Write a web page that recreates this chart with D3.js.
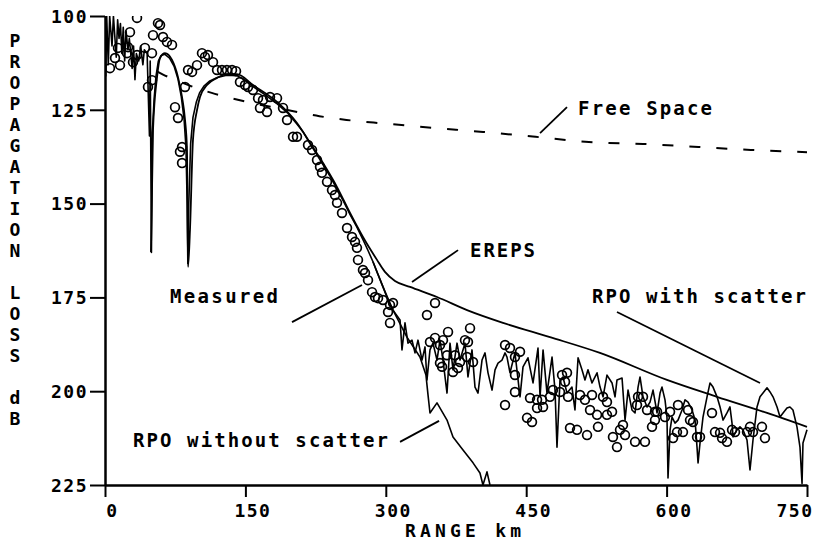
<!DOCTYPE html>
<html><head><meta charset="utf-8">
<script src="https://cdn.jsdelivr.net/npm/d3@7"></script>
<style>
html,body{margin:0;padding:0;background:#fff;}
svg{display:block;}
text{font-family:"DejaVu Sans Mono",monospace;font-weight:bold;fill:#000;}
</style></head>
<body>
<svg id="chart" width="823" height="542"></svg>
<script>
// ---------- data (range km, propagation loss dB) ----------
const xTicks = [0, 150, 300, 450, 600, 750];
const yTicks = [100, 125, 150, 175, 200, 225];
const yTitle = "PROPAGATION LOSS dB";
const xTitle = "RANGE  km";

const freeSpace = [[56,114.8],[62,115.6],[75,117],[100,119.4],[114,120.5],[143,122.4],[200,125.3],[229,126.7],[258,127.7],[287,128.4],[350,129.8],[404,130.9],[460,132.2],[517,133.6],[575,134.1],[634,134.9],[690,135.7],[750,136.3]];

const ereps = [[49.1,162.9],[51.3,130.4],[55.6,116.3],[58.8,111.2],[64.1,109.9],[71.6,111.7],[78,116.3],[82.3,121.6],[85.5,127.7],[87.6,135.7],[88.7,166.9],[90.8,157],[94,133],[98.3,125.1],[101.5,121.6],[109,118.4],[119.7,116.5],[130.3,115.5],[141,115.5],[158.1,118.4],[183.8,122.9],[205.1,128.5],[219,133.8],[232.9,139.2],[247.9,145.6],[261.8,152.5],[275.6,158.9],[290.6,165],[299.1,168.2],[309.8,170.6],[325.9,172.2],[354.7,174.9],[386.8,178.4],[425.2,181.8],[475.4,185.6],[528.8,189.8],[600.4,197],[653.8,201.5],[707.3,205.8],[750,209.5]];

const rpoScatter = [[0,100],[0.8,116],[1.8,100],[3.5,113],[5,100],[7.5,108],[9,100],[12,111],[13.5,101],[15,106],[16.5,102],[18,110],[19.5,103],[21,112],[22.5,104],[24.5,109],[26,106],[29,114],[30.5,108],[32,117],[33.5,110],[36,112],[38,108],[40.5,113],[42,109],[45,110],[47.5,132],[48.3,112],[49.6,163],[50.6,131],[52.5,122],[54.5,116],[57,112],[60,110.5],[64,110.2],[69,111.2],[74,113.5],[78,116.8],[81.5,121.5],[84.5,127.5],[86.5,135],[87.8,150],[88.5,166],[89.5,150],[91.5,134],[94,127],[97.5,123],[101,120.5],[106,118.6],[112,117.3],[120,116.4],[130,115.8],[141,115.9],[150,117.2],[158,118.8],[170,120.8],[184,123.4],[195,125.8],[205,128.8],[212,131],[219,134],[226,136.8],[233,139.7],[240,142.5],[248,146.2],[255,149.5],[262,153],[269,156.2],[276,159.8],[281,162.5],[286.3,165.5],[291,168.5],[297,172.2],[302,175.5],[307.7,178.4],
[315.2,181],[317.3,189],[320.5,181.8],[323.7,187.2],[328,186.4],[331.2,189.8],[334.4,186.4],[338.7,191.7],[341.9,188.2],[344,197],[347.2,189],[350.4,187.2],[354.7,191.7],[357.9,186.4],[361.1,191.7],[365.4,200.5],[368.6,187.2],[371.8,194.3],[376.1,187.2],[379.3,191.7],[384.6,187.2],[387.8,196.2],[392.1,189],[395.3,198.9],[398.5,200.5],[402.8,191.7],[406,189.8],[409.2,195.1],[413.5,199.7],[416.7,194.3],[419.9,192.5],[424.2,191.7],[427.4,189.8],[429.5,190.9],[432.7,195.1],[438,189.8],[443.4,201.5],[446.6,193.5],[451.9,191.1],[457.3,197.8],[462.6,188.5],[464.8,201.5],[468,189],[472.2,200.5],[477.6,190.9],[480.8,199.7],[482.9,214.9],[486.1,197],[489.3,196.2],[493.6,200.5],[498.9,198.9],[502.1,205],[505.4,191.1],[509.6,194.3],[512.8,197],[516,194.3],[520.3,197.8],[525.7,195.1],[528.9,198.9],[532.1,201.5],[536.3,195.7],[541.7,197.8],[544.9,201.5],[547,197],[552.4,196.5],[555.6,207.7],[558.8,199.7],[563,205],[566.3,205.8],[569.5,198.9],[571.6,196.2],[574.8,201.5],[579.1,204.2],[582.3,202.9],[585.5,199.7],[589.8,205.8],[593,200.5],[595.1,198.9],[598.3,202.3],[600.4,206.9],[601.5,223.1],[603.7,210.3],[605.8,206.9],[609,208.5],[612.2,207.7],[616.5,205],[619.7,202.3],[622.9,202.9],[627.2,205],[630.4,207.7],[632.5,214.9],[633.6,219.1],[635.7,213.8],[638.9,206.9],[643.2,201.5],[646.4,197.8],[649.6,198.9],[653.9,201.5],[657.1,204.2],[660.3,207.7],[664.5,205.8],[667.7,204.2],[669.9,208.5],[671,212.2],[675.2,210.3],[678.4,209.5],[681.6,210.3],[685.9,213],[689.1,221],[692.3,213],[696.6,204.2],[699.8,201.5],[703,200.5],[707.3,199.1],[710.5,200.2],[713.7,201.5],[718,204.2],[721.2,206.9],[724.4,205.8],[728.6,204.5],[731.8,204.2],[735,205],[739.3,209.5],[742.5,214.9],[744.7,224.6],[745.7,213.8],[750,210.3]];

const rpoNoScatter = [[286.3,165.5],[297,172.2],[307.7,178.4],[322.6,185.6],[336.5,190.9],[342.9,195.7],[345.1,201],[347.2,205.8],[354.7,203.1],[365.4,207.7],[371.8,212.2],[382.5,215.7],[393.2,219.1],[400.6,221.8],[403.8,225],[408.1,221.5],[411.3,225]];

const measured = [[34.2,100.5],[56.6,101.9],[58.8,102.4],[26.7,104.3],[51.3,105.1],[62,105.6],[66.2,106.9],[71.6,107.7],[13.9,108.5],[24.6,108.3],[23.5,109.9],[42.7,108.5],[50.2,109.9],[10.7,111.2],[29.9,112.3],[16,113.1],[5.3,113.9],[34.2,110.4],[50.2,117.1],[45.9,118.9],[85.5,118.9],[74.8,124.3],[78,127.2],[82.3,134.9],[80.1,136.2],[82.3,139.2],[88.7,114.4],[93,114.9],[98.3,113.1],[103.6,109.9],[106.8,110.9],[110,110.4],[115.4,112.3],[119.7,114.4],[125,114.4],[130.3,114.4],[135.7,114.4],[140,114.7],[144.2,117.6],[149.6,118.4],[152.8,118.9],[158.1,119.7],[163.5,121.9],[168.8,122.4],[176.3,121.6],[183.8,121.9],[165.6,124.5],[173.1,125.6],[190.2,124.5],[194.5,127.7],[200.9,132.2],[205.1,132.2],[216.9,134.4],[221.2,135.7],[226.5,138.4],[229.7,140.2],[231.8,141.8],[237.2,144.2],[242.5,146.4],[245.7,147.7],[247.9,149.8],[253.2,152.5],[258.6,156.5],[263.9,158.9],[267.1,160.2],[269.2,161.8],[270.3,165],[275.6,167.7],[277.8,168.5],[281,170.4],[285.3,173.6],[288.5,174.9],[291.7,175.2],[297,175.7],[304.5,177],[302.4,178.9],[304.5,181.8],[307.7,176.5],[352.6,176.5],[344,179.7],[366.5,184.2],[390,183.2],[347.2,186.9],[352.6,185.8],[361.1,186.4],[357.9,187.7],[365.4,190.4],[373.9,190.4],[384.6,186.4],[387.8,186.9],[386.8,190.9],[379.3,192.2],[357.9,192.5],[360.1,193.5],[377.1,193.8],[371.8,194.9],[393.2,192.2],[427.4,187.7],[427.4,203.7],[432.7,188.5],[443.4,189.5],[438,190.9],[438,195.7],[438,200.2],[454.1,201.8],[461.6,202.3],[466.9,202.3],[461.6,204.5],[468,204.2],[478.6,199.7],[475.4,201.5],[450.9,207.1],[456.2,208.2],[488.3,195.7],[493.6,195.1],[491.5,197.5],[486.1,200.2],[494.7,201.5],[507.5,201],[512.8,202.3],[520.3,201],[518.2,205],[525.7,206.3],[536.3,206.3],[541.7,205.5],[532.1,201.5],[536.3,202.9],[496.8,209.8],[504.3,210.3],[515,211.7],[526.7,209.5],[542.7,212.2],[555.6,211.7],[550.2,210.3],[553.4,209],[547,214.9],[566.3,213.5],[576.9,213.5],[568.4,203.7],[569.5,201.5],[579.1,205],[584.4,209.5],[587.6,207.7],[587.6,205.5],[574.8,201.5],[589.8,205.5],[598.3,206.9],[603.7,205.5],[612.2,203.7],[622.9,205],[611.1,210.9],[617.5,210.9],[632.5,212.2],[635.7,212.2],[648.5,205.8],[628.2,208.2],[651.7,210.9],[657.1,211.1],[664.5,213.5],[659.2,212.5],[669.9,210.3],[673.1,210.9],[685.9,210.9],[689.1,209.5],[692.3,210.9],[701.9,209.5],[705.1,212.5],[606.9,212.5],[625,207.7]];

// annotation labels: text, anchor (km, dB), pointer from/to (km, dB)
const labelText = ["Free Space", "EREPS", "Measured", "RPO with scatter", "RPO without scatter"];
const labelAt = [[505.4,126.4],[390,164.2],[69.4,176.5],[520.3,176.5],[29.9,214.9]];
const labelWidth = [134, 65, 108, 214, 255];
const pointerFrom = [[464.8,131.2],[328,170.9],[199.8,181.6],[547,178.9],[315.2,213.5]];
const pointerTo = [[493.6,124.3],[377.2,162.4],[274.6,171.7],[699.8,197.8],[356.9,207.9]];

// ---------- drawing ----------
const svg = d3.select("#chart");
const x = d3.scaleLinear().domain([0, 750]).range([105, 807]);
const y = d3.scaleLinear().domain([100, 225]).range([16, 485]);

svg.append("defs").append("clipPath").attr("id", "plot")
  .append("rect").attr("x", 105).attr("y", 16).attr("width", 710).attr("height", 469);

const g = svg.append("g").attr("clip-path", "url(#plot)");
const lineLin = d3.line().x(d => x(d[0])).y(d => y(d[1]));
const lineSmooth = d3.line().x(d => x(d[0])).y(d => y(d[1])).curve(d3.curveMonotoneX);

g.append("path").datum(freeSpace).attr("d", lineSmooth)
  .attr("fill", "none").attr("stroke", "#000").attr("stroke-width", 2).attr("stroke-dasharray", "11,16");
g.append("path").datum(ereps).attr("d", lineSmooth)
  .attr("fill", "none").attr("stroke", "#000").attr("stroke-width", 1.8);
g.append("path").datum(rpoScatter).attr("d", lineLin)
  .attr("fill", "none").attr("stroke", "#000").attr("stroke-width", 1.6).attr("stroke-linejoin", "round");
g.append("path").datum(rpoNoScatter).attr("d", lineLin)
  .attr("fill", "none").attr("stroke", "#000").attr("stroke-width", 1.6).attr("stroke-linejoin", "round");

g.selectAll("circle.m").data(measured).enter().append("circle")
  .attr("class", "m").attr("cx", d => x(d[0])).attr("cy", d => y(d[1])).attr("r", 4.4)
  .attr("fill", "none").attr("stroke", "#000").attr("stroke-width", 1.7);

// axes
const yAxis = d3.axisLeft(y).tickValues(yTicks).tickSize(15).tickSizeOuter(0).tickPadding(2);
const xAxis = d3.axisBottom(x).tickValues(xTicks).tickSize(12).tickSizeOuter(0).tickPadding(6);
const ya = svg.append("g").attr("transform", "translate(105,0)").call(yAxis);
const xa = svg.append("g").attr("transform", "translate(0,485)").call(xAxis);
[ya, xa].forEach(a => {
  a.select(".domain").attr("stroke", "#000").attr("stroke-width", 2.5);
  a.selectAll(".tick line").attr("stroke", "#000").attr("stroke-width", 2);
  a.selectAll(".tick text").style("font-family", "'DejaVu Sans Mono', monospace")
    .style("font-weight", "bold").style("font-size", "18px").style("letter-spacing", "1.5px").attr("fill", "#000");
});
ya.selectAll(".tick text").attr("dy", "0.35em");
xa.selectAll(".tick text").attr("dy", "0.8em")
  .attr("text-anchor", (d, i) => i === xTicks.length - 1 ? "end" : "middle")
  .attr("dx", (d, i) => i === xTicks.length - 1 ? 6 : 7);

// y title (stacked letters)
svg.append("g").selectAll("text").data(yTitle.split("")).enter().append("text")
  .attr("x", 15).attr("y", (d, i) => 47 + i * 21).attr("text-anchor", "middle")
  .style("font-size", "18px").text(d => d);

// x title
svg.append("text").attr("x", 405).attr("y", 537).attr("textLength", 116).attr("lengthAdjust", "spacing")
  .style("font-size", "18px").text(xTitle);

// annotations
labelText.forEach((t, i) => {
  svg.append("text").attr("x", x(labelAt[i][0])).attr("y", y(labelAt[i][1]))
    .attr("textLength", labelWidth[i]).attr("lengthAdjust", "spacing")
    .style("font-size", "19px").text(t);
  svg.append("line").attr("x1", x(pointerFrom[i][0])).attr("y1", y(pointerFrom[i][1]))
    .attr("x2", x(pointerTo[i][0])).attr("y2", y(pointerTo[i][1]))
    .attr("stroke", "#000").attr("stroke-width", 1.8);
});
</script>
</body></html>
